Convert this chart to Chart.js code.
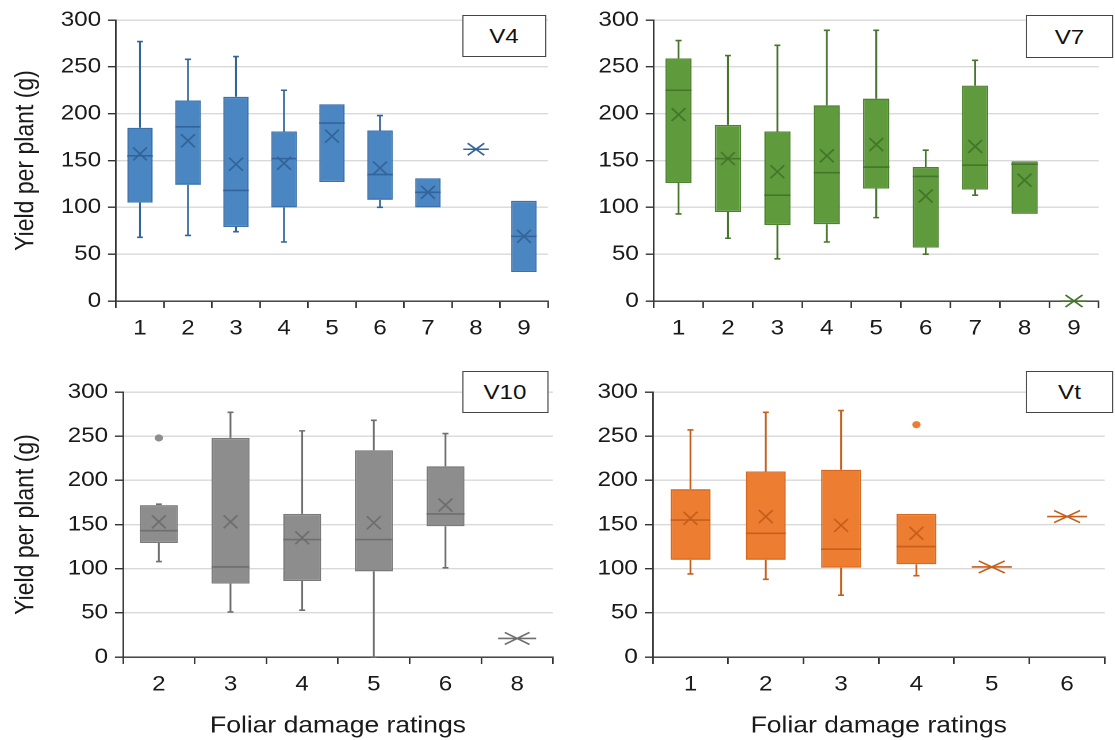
<!DOCTYPE html>
<html>
<head>
<meta charset="utf-8">
<script src="https://cdn.jsdelivr.net/npm/chart.js@4.4.1/dist/chart.umd.min.js"></script>
<style>
  html, body { margin: 0; padding: 0; background: #fff; overflow: hidden; }
  #page { position: absolute; left: 0; top: 0; height: 740px; transform-origin: 0 0; }
  .panel { position: absolute; }
  .tag { position: absolute; box-sizing: border-box; border: 1px solid #444; background: #fff;
         font: 21px 'Liberation Sans', Arial, sans-serif; color: #111;
         display: flex; align-items: center; justify-content: center; }
</style>
</head>
<body>
<div id="page"></div>
<script>
// V4
const v4Cats = ['1', '2', '3', '4', '5', '6', '7', '8', '9'];
const v4Min  = [68, 70, 74, 63, 127, 100, 100, 162, 31];
const v4Q1   = [105, 124, 79, 100, 127, 108, 100, 162, 31];
const v4Med  = [155, 186, 118, 152, 190, 135, 116, 162, 69];
const v4Q3   = [185, 214, 218, 181, 210, 182, 131, 162, 107];
const v4Max  = [277, 258, 261, 225, 210, 198, 131, 162, 107];
const v4Mean = [157, 171, 146, 147, 176, 142, 116, 162, 69];
const v4Out  = [[], [], [], [], [], [], [], [], []];

// V7
const v7Cats = ['1', '2', '3', '4', '5', '6', '7', '8', '9'];
const v7Min  = [93, 67, 45, 63, 89, 50, 113, 93, 0];
const v7Q1   = [126, 95, 81, 82, 120, 57, 119, 93, 0];
const v7Med  = [225, 152, 113, 137, 143, 133, 145, 146, 0];
const v7Q3   = [259, 188, 181, 209, 216, 143, 230, 149, 0];
const v7Max  = [278, 262, 273, 289, 289, 161, 257, 149, 0];
const v7Mean = [199, 152, 138, 155, 167, 112, 165, 129, 0];
const v7Out  = [[], [], [], [], [], [], [], [], []];

// V10
const v10Cats = ['2', '3', '4', '5', '6', '8'];
const v10Min  = [108, 51, 53, 0, 101, 21];
const v10Q1   = [129, 83, 86, 97, 148, 21];
const v10Med  = [143, 102, 133, 133, 162, 21];
const v10Q3   = [172, 248, 162, 234, 216, 21];
const v10Max  = [173, 277, 256, 268, 253, 21];
const v10Mean = [153, 153, 135, 152, 172, 21];
const v10Out  = [[248], [], [], [], [], []];

// Vt
const vtCats = ['1', '2', '3', '4', '5', '6'];
const vtMin  = [94, 88, 70, 92, 102, 159];
const vtQ1   = [110, 110, 101, 105, 102, 159];
const vtMed  = [155, 140, 122, 125, 102, 159];
const vtQ3   = [190, 210, 212, 162, 102, 159];
const vtMax  = [257, 277, 279, 162, 102, 159];
const vtMean = [157, 159, 149, 140, 102, 159];
const vtOut  = [[], [], [], [263], [], []];

const yTicks = [0, 50, 100, 150, 200, 250, 300];

// the picture is a little wider than its text height suggests
const S = 1.15;
const page = document.getElementById('page');
page.style.width = (1115 / S) + 'px';
page.style.transform = 'scaleX(' + S + ')';

Chart.defaults.font.family = "'Liberation Sans', Arial, sans-serif";
Chart.defaults.color = '#1a1a1a';

function boxPlugin(p) {
  return {
    id: 'boxPlot',
    afterDatasetsDraw(chart) {
      const ctx = chart.ctx;
      const xs = chart.scales.x, ys = chart.scales.y;
      const bars = chart.getDatasetMeta(0).data;
      const py = v => ys.getPixelForValue(v);
      ctx.save();
      ctx.lineWidth = 1.6;
      ctx.strokeStyle = p.line;
      p.med.forEach((m, i) => {
        const cx = xs.getPixelForValue(i);
        const hw = bars[i].width / 2;
        const single = p.q1[i] === p.q3[i];
        ctx.beginPath();
        if (p.max[i] > p.q3[i]) {
          ctx.moveTo(cx, py(p.q3[i]));
          ctx.lineTo(cx, py(p.max[i]));
          ctx.moveTo(cx - 2.6, py(p.max[i]));
          ctx.lineTo(cx + 2.6, py(p.max[i]));
        }
        if (p.min[i] < p.q1[i]) {
          ctx.moveTo(cx, py(p.q1[i]));
          ctx.lineTo(cx, py(p.min[i]));
          ctx.moveTo(cx - 2.6, py(p.min[i]));
          ctx.lineTo(cx + 2.6, py(p.min[i]));
        }
        // median
        ctx.moveTo(cx - hw, py(m));
        ctx.lineTo(cx + hw, py(m));
        ctx.stroke();

        // mean marker
        const mx = single ? hw * 0.65 : 6, my = single ? 6 : 6.5;
        const ym = py(p.mean[i]);
        ctx.beginPath();
        ctx.moveTo(cx - mx, ym - my);
        ctx.lineTo(cx + mx, ym + my);
        ctx.moveTo(cx - mx, ym + my);
        ctx.lineTo(cx + mx, ym - my);
        ctx.stroke();

        // outliers
        ctx.fillStyle = p.fill;
        p.out[i].forEach(v => {
          ctx.beginPath();
          ctx.arc(cx, py(v), 3.6, 0, Math.PI * 2);
          ctx.fill();
        });
      });
      ctx.restore();
    }
  };
}

function makePanel(p) {
  const wrap = document.createElement('div');
  wrap.className = 'panel';
  wrap.style.left = (p.canvas.x / S) + 'px';
  wrap.style.top = p.canvas.y + 'px';
  wrap.style.width = (p.canvas.w / S) + 'px';
  wrap.style.height = p.canvas.h + 'px';
  const cv = document.createElement('canvas');
  wrap.appendChild(cv);
  page.appendChild(wrap);

  const tag = document.createElement('div');
  tag.className = 'tag';
  tag.textContent = p.name;
  tag.style.left = (p.tag.l / S) + 'px';
  tag.style.top = p.tag.t + 'px';
  tag.style.width = ((p.tag.r - p.tag.l) / S) + 'px';
  tag.style.height = (p.tag.b - p.tag.t) + 'px';
  page.appendChild(tag);

  new Chart(cv, {
    type: 'bar',
    data: {
      labels: p.cats,
      datasets: [{
        data: p.q1.map((v, i) => [v, p.q3[i]]),
        backgroundColor: p.fill,
        borderColor: p.edge,
        borderWidth: 1.3,
        borderSkipped: false,
        barPercentage: 0.53,
        categoryPercentage: 1
      }]
    },
    options: {
      responsive: true,
      maintainAspectRatio: false,
      animation: false,
      devicePixelRatio: 2,
      layout: {
        padding: {
          left: 0,
          top: p.area.t - p.canvas.y,
          right: (p.canvas.x + p.canvas.w - p.area.r) / S,
          bottom: 0
        }
      },
      plugins: {
        legend: { display: false },
        tooltip: { enabled: false }
      },
      scales: {
        x: {
          grid: { drawOnChartArea: false, drawTicks: true, tickLength: 7, color: '#333', lineWidth: 1.4, offset: true },
          border: { color: '#333', width: 1.4 },
          ticks: { font: { size: 21 }, color: '#1a1a1a', padding: 8 },
          title: {
            display: p.xTitle,
            text: 'Foliar damage ratings',
            font: { size: 23 },
            color: '#1a1a1a',
            padding: { top: 0, bottom: 0 }
          },
          afterFit: s => { s.height = p.canvas.y + p.canvas.h - p.area.b; }
        },
        y: {
          min: 0,
          max: 300,
          afterBuildTicks: s => { s.ticks = yTicks.map(v => ({ value: v })); },
          grid: { color: '#d9d9d9', lineWidth: 1.4, tickColor: '#333', tickLength: 7 },
          border: { color: '#333', width: 1.4 },
          ticks: { font: { size: 21 }, color: '#1a1a1a', padding: 6 },
          title: {
            display: p.yTitle,
            text: 'Yield per plant (g)',
            font: { size: 23 },
            color: '#1a1a1a',
            padding: { top: 9, bottom: 0 }
          },
          afterFit: s => { s.width = (p.area.l - p.canvas.x) / S; }
        }
      }
    },
    plugins: [boxPlugin(p)]
  });
}

makePanel({
  name: 'V4', cats: v4Cats, min: v4Min, q1: v4Q1, med: v4Med, q3: v4Q3, max: v4Max, mean: v4Mean, out: v4Out,
  fill: '#4a86c2', edge: '#3b71aa', line: '#336499',
  canvas: { x: 0, y: 0, w: 557, h: 350 }, area: { l: 116, t: 20, r: 548, b: 301 },
  tag: { l: 462, t: 15, r: 546, b: 57 }, yTitle: true, xTitle: false
});
makePanel({
  name: 'V7', cats: v7Cats, min: v7Min, q1: v7Q1, med: v7Med, q3: v7Q3, max: v7Max, mean: v7Mean, out: v7Out,
  fill: '#5f9b3c', edge: '#4d8330', line: '#44752a',
  canvas: { x: 557, y: 0, w: 558, h: 350 }, area: { l: 654, t: 20, r: 1098, b: 301 },
  tag: { l: 1026, t: 15, r: 1113, b: 58 }, yTitle: false, xTitle: false
});
makePanel({
  name: 'V10', cats: v10Cats, min: v10Min, q1: v10Q1, med: v10Med, q3: v10Q3, max: v10Max, mean: v10Mean, out: v10Out,
  fill: '#8d8d8d', edge: '#7a7a7a', line: '#6e6e6e',
  canvas: { x: 0, y: 355, w: 557, h: 385 }, area: { l: 123, t: 392, r: 553, b: 657 },
  tag: { l: 462, t: 371, r: 548, b: 413 }, yTitle: true, xTitle: true
});
makePanel({
  name: 'Vt', cats: vtCats, min: vtMin, q1: vtQ1, med: vtMed, q3: vtQ3, max: vtMax, mean: vtMean, out: vtOut,
  fill: '#ed7d31', edge: '#d66a22', line: '#c65f1c',
  canvas: { x: 557, y: 355, w: 558, h: 385 }, area: { l: 653, t: 392, r: 1104, b: 657 },
  tag: { l: 1026, t: 371, r: 1113, b: 413 }, yTitle: false, xTitle: true
});
</script>
</body>
</html>
